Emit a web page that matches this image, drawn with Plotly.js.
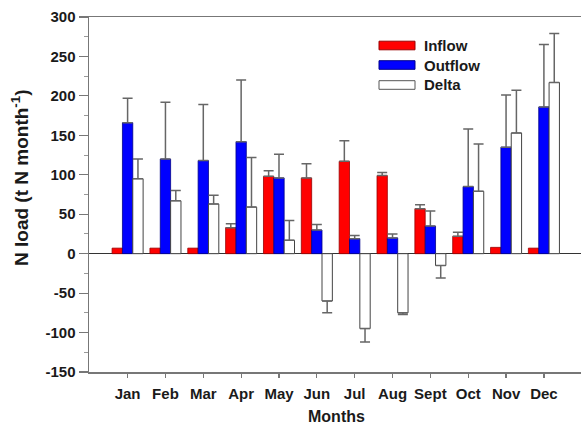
<!DOCTYPE html>
<html>
<head>
<meta charset="utf-8">
<script src="https://cdn.plot.ly/plotly-3.0.1.min.js"></script>
<style>html,body{margin:0;padding:0;background:#fff;}#chart{width:581px;height:426px;}</style>
</head>
<body>
<div id="chart"></div>
<script>
var months = ['Jan','Feb','Mar','Apr','May','Jun','Jul','Aug','Sept','Oct','Nov','Dec'];
var inflow = [7, 7, 7, 33, 98, 96, 117, 99, 57, 22, 8, 7];
var inflowErr = [NaN, NaN, NaN, 5, 7, 18, 26, 4, 5, 5, NaN, NaN];
var outflow = [166, 120, 118, 142, 96, 30, 19, 20, 35, 85, 135, 186];
var outflowErr = [31, 72, 71, 78, 30, 7, 4, 5, 19, 73, 66, 79];
var delta = [95, 67, 63, 59, 17, -60, -95, -75, -15, 79, 153, 217];
var deltaErr = [25, 13, 11, 63, 25, 15, 17, 2, 16, 60, 54, 62];

var yTickVals = [-150, -100, -50, 0, 50, 100, 150, 200, 250, 300];

// one-sided error bars in the direction of each bar
function plusErr(vals, errs) { return vals.map(function (v, i) { return v >= 0 ? errs[i] : (isNaN(errs[i]) ? NaN : 0); }); }
function minusErr(vals, errs) { return vals.map(function (v, i) { return v >= 0 ? (isNaN(errs[i]) ? NaN : 0) : errs[i]; }); }

var errStyle = {color: '#666666', thickness: 1.5, width: 5};

function mkErr(vals, errs) {
  return Object.assign({type: 'data', symmetric: false, array: plusErr(vals, errs), arrayminus: minusErr(vals, errs), visible: true}, errStyle);
}

var traces = [
  {type: 'bar', name: 'Inflow', x: months, y: inflow,
   marker: {color: '#ff0000', line: {color: '#990000', width: 0.8}},
   error_y: mkErr(inflow, inflowErr)},
  {type: 'bar', name: 'Outflow', x: months, y: outflow,
   marker: {color: '#0000ff', line: {color: '#00008a', width: 0.8}},
   error_y: mkErr(outflow, outflowErr)},
  {type: 'bar', name: 'Delta', x: months, y: delta,
   marker: {color: '#ffffff', line: {color: '#444444', width: 1}},
   error_y: mkErr(delta, deltaErr)}
];

// plot area pixel geometry
var L = 89, R = 581, T = 17, B = 372;
function px(p) { return (p - L) / (R - L); }
function py(q) { return (B - q) / (B - T); }

var legendItems = [
  {text: 'Inflow', fill: '#ff0000', line: '#990000', cy: 45.5},
  {text: 'Outflow', fill: '#0000ff', line: '#00008a', cy: 65},
  {text: 'Delta', fill: '#ffffff', line: '#555555', cy: 85}
];

var shapes = legendItems.map(function (it) {
  return {type: 'rect', xref: 'paper', yref: 'paper',
          x0: px(379), x1: px(415), y0: py(it.cy + 4.3), y1: py(it.cy - 4.3),
          fillcolor: it.fill, line: {color: it.line, width: 1}};
});

var font = 'Liberation Sans, Arial, Helvetica, sans-serif';

var annotations = legendItems.map(function (it) {
  return {xref: 'paper', yref: 'paper', x: px(422), y: py(it.cy), xanchor: 'left', yanchor: 'middle',
          text: '<b>' + it.text + '</b>', showarrow: false, font: {family: font, size: 15, color: '#1a1a1a'}};
});
annotations.push({xref: 'paper', yref: 'paper', x: px(20), y: py(178), xanchor: 'center', yanchor: 'middle',
  textangle: -90, text: '<b>N load (t N month<sup>-1</sup>)</b>', showarrow: false,
  font: {family: font, size: 19, color: '#1a1a1a'}});
annotations.push({xref: 'paper', yref: 'paper', x: px(336), y: py(416), xanchor: 'center', yanchor: 'middle',
  text: '<b>Months</b>', showarrow: false, font: {family: font, size: 16, color: '#1a1a1a'}});

var layout = {
  width: 581, height: 426,
  margin: {l: L, r: 581 - R, t: T, b: 426 - B, pad: 0},
  paper_bgcolor: '#ffffff', plot_bgcolor: '#ffffff',
  barmode: 'group', bargap: 0.18, bargroupgap: 0,
  showlegend: false,
  xaxis: {
    type: 'category', range: [-1.02, 11.98],
    showgrid: false, zeroline: false,
    showline: true, linecolor: '#777777', linewidth: 1.5, mirror: true,
    ticks: 'outside', ticklen: 4, tickwidth: 1.2, tickcolor: '#777777',
    ticklabelstandoff: 3,
    tickfont: {family: font, size: 15, color: '#1a1a1a', weight: 'bold'}
  },
  yaxis: {
    range: [-150, 300], tickvals: yTickVals, ticktext: yTickVals.map(String),
    showgrid: false,
    zeroline: true, zerolinecolor: '#333333', zerolinewidth: 1,
    showline: true, linecolor: '#777777', linewidth: 1.5, mirror: false,
    ticks: 'outside', ticklen: 9, tickwidth: 1.2, tickcolor: '#777777',
    minor: {dtick: 25, ticks: 'outside', ticklen: 4, tickwidth: 1, tickcolor: '#999999'},
    tickfont: {family: font, size: 15, color: '#1a1a1a', weight: 'bold'}
  },
  shapes: shapes,
  annotations: annotations
};

Plotly.newPlot('chart', traces, layout, {displayModeBar: false, staticPlot: true});
</script>
</body>
</html>
